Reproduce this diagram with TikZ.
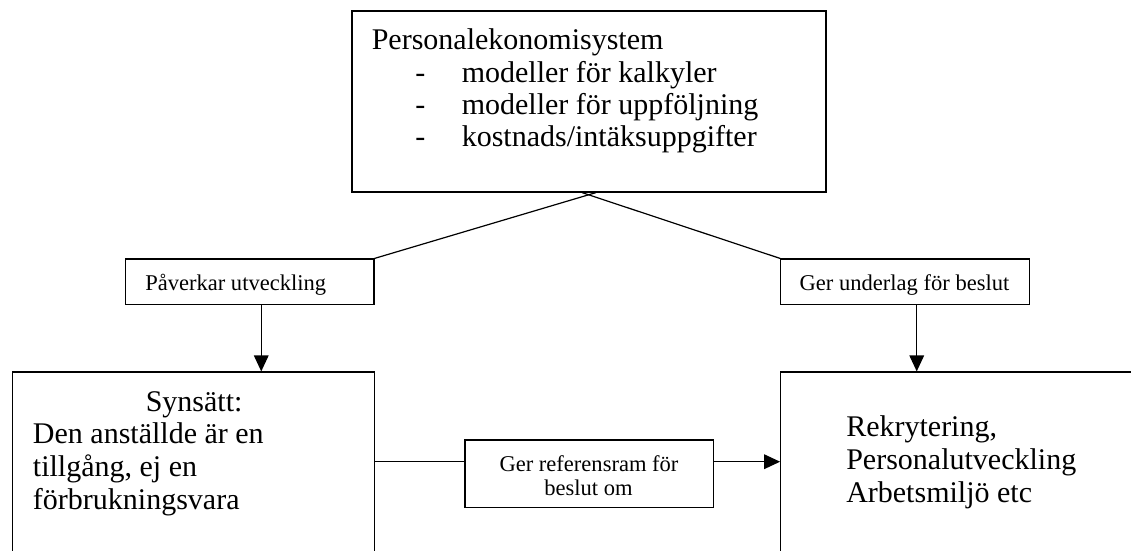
\documentclass[tikz,border=0pt]{standalone}
\usepackage{fontspec}
\setmainfont{Liberation Serif}
\usetikzlibrary{fit,arrows.meta,calc}

\tikzset{
  frame/.style={draw, line width=0.9pt, inner sep=0pt, rectangle},
  txt/.style={inner sep=0pt, font=\fontsize{22.5pt}{24pt}\selectfont},
  small/.style={inner sep=0pt, font=\fontsize{16.9pt}{18pt}\selectfont},
  link/.style={line width=0.9pt},
  arr/.style={line width=0.9pt, -{Triangle[length=12pt,width=11pt]}},
}

\begin{document}
\begin{tikzpicture}[x=0.75pt, y=-0.75pt]
\useasboundingbox (0,0) rectangle (1131,550);
\clip (0,0) rectangle (1131,550);

% box corners
\coordinate (topA) at (352,11);     \coordinate (topB) at (826,192);
\coordinate (pavA) at (125.7,259);  \coordinate (pavB) at (374,304.3);
\coordinate (gerA) at (780.7,259);  \coordinate (gerB) at (1029.3,304.3);
\coordinate (lftA) at (12.7,372);   \coordinate (lftB) at (374.7,580);
\coordinate (rgtA) at (780.7,372);  \coordinate (rgtB) at (1160,580);
\coordinate (midA) at (465,440);    \coordinate (midB) at (713.3,507.3);

% boxes
\node[frame, fit=(topA)(topB)] (top) {};
\node[frame, fit=(pavA)(pavB)] (pav) {};
\node[frame, fit=(gerA)(gerB)] (ger) {};
\node[frame, fit=(lftA)(lftB)] (left) {};
\node[frame, fit=(rgtA)(rgtB)] (right) {};
\node[frame, fit=(midA)(midB)] (mid) {};

% texts of the top box
\node[txt, anchor=base west] (t1) at (371.5,49) {Personalekonomisystem};
\node[txt, anchor=base west] (d2) at (415,82) {-};
\node[txt, anchor=base west] (t2) at (461.5,82) {modeller för kalkyler};
\node[txt, anchor=base west] (d3) at (415,114) {-};
\node[txt, anchor=base west] (t3) at (461.5,114) {modeller för uppföljning};
\node[txt, anchor=base west] (d4) at (415,146) {-};
\node[txt, anchor=base west] (t4) at (461.5,146) {kostnads/intäksuppgifter};

% labels
\node[small, anchor=base west] (pavt) at (145,290) {Påverkar utveckling};
\node[small, anchor=base] (gert) at (904.5,290) {Ger underlag för beslut};
\node[small, anchor=base] (midt1) at (589,471.5) {Ger referensram för};
\node[small, anchor=base] (midt2) at (588.5,495.5) {beslut om};

% texts of the lower boxes
\node[txt, anchor=base west] (l1) at (145.5,411) {Synsätt:};
\node[txt, anchor=base west] (l2) at (32.7,443) {Den anställde är en};
\node[txt, anchor=base west] (l3) at (32.7,476) {tillgång, ej en};
\node[txt, anchor=base west] (l4) at (32.7,509) {förbrukningsvara};
\node[txt, anchor=base west] (r1) at (846,436) {Rekrytering,};
\node[txt, anchor=base west] (r2) at (846,469) {Personalutveckling};
\node[txt, anchor=base west] (r3) at (846,502) {Arbetsmiljö etc};

% connectors
\draw[link] (pav.north east) -- ($(top.south)+(7,0)$);
\draw[link] (ger.north west) -- ($(top.south)+(-7,0)$);
\draw[arr] ([xshift=8.55pt]pav.south) -- ([xshift=8.55pt]pav.south |- left.north);
\draw[arr] ([xshift=8.8pt]ger.south) -- ([xshift=8.8pt]ger.south |- right.north);
\coordinate (row) at (0,461.7);
\draw[link] (left.east |- row) -- (mid.west |- row);
\draw[arr] (mid.east |- row) -- (right.west |- row);
\end{tikzpicture}
\end{document}
